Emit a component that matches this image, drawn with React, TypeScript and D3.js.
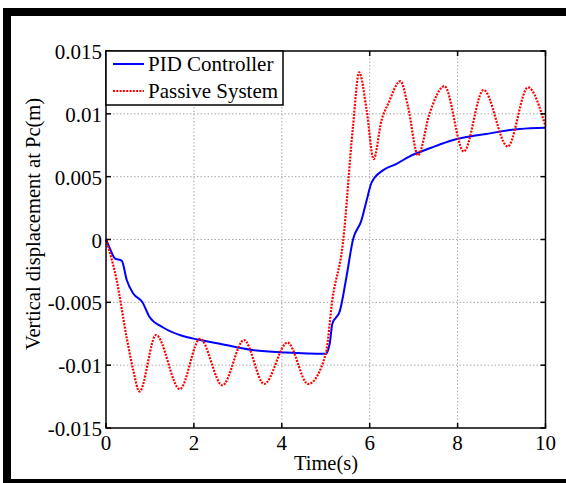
import React from "react";
import * as d3 from "d3";

const width = 566;
const height = 483;
const plot = { left: 106, right: 545.5, top: 51, bottom: 428 };

const xTicks = [0, 2, 4, 6, 8, 10];
const yTicks = [-0.015, -0.01, -0.005, 0, 0.005, 0.01, 0.015];
const yTickLabels = ["-0.015", "-0.01", "-0.005", "0", "0.005", "0.01", "0.015"];

// PID Controller
const pidTime = [0, 0.1, 0.2, 0.36, 0.47, 0.62, 0.83, 0.98, 1.3, 1.68, 2.14, 2.59, 3.33, 4.1, 5.0,
  5.09, 5.15, 5.32, 5.47, 5.62, 5.81, 5.93, 6.04, 6.3, 6.6, 6.9, 7.4, 7.88, 8.65, 9.41, 10];
const pidValue = [0, -0.0008, -0.0015, -0.0017, -0.0032, -0.0043, -0.005, -0.0061, -0.007, -0.0076,
  -0.008, -0.0083, -0.0088, -0.009, -0.0091, -0.0083, -0.0067, -0.0057, -0.003, 0, 0.0015, 0.0031,
  0.0045, 0.0055, 0.006, 0.0066, 0.0073, 0.0079, 0.0084, 0.0088, 0.0089];

// Passive System
const passiveTime = [0, 0.24, 0.47, 0.62, 0.76, 1.14, 1.68, 2.14, 2.65, 3.14, 3.6, 4.13, 4.6, 5.0,
  5.15, 5.39, 5.62, 5.76, 5.93, 6.09, 6.27, 6.42, 6.7, 6.87, 7.1, 7.36, 7.7, 8.14, 8.59, 9.14, 9.6, 10];
const passiveValue = [0, -0.0032, -0.0078, -0.0104, -0.0121, -0.0076, -0.0119, -0.0079, -0.0116,
  -0.008, -0.0115, -0.0082, -0.0115, -0.0091, -0.0048, -0.0003, 0.009, 0.0133, 0.0103, 0.0064,
  0.0095, 0.0108, 0.0126, 0.0106, 0.0067, 0.01, 0.0122, 0.007, 0.0119, 0.0074, 0.0121, 0.009];

const font = "'Liberation Serif', 'Times New Roman', serif";

export default function App() {
  const x = d3.scaleLinear().domain([0, 10]).range([plot.left, plot.right]);
  const y = d3.scaleLinear().domain([-0.015, 0.015]).range([plot.bottom, plot.top]);

  const line = d3
    .line<[number, number]>()
    .x(d => x(d[0]))
    .y(d => y(d[1]))
    .curve(d3.curveMonotoneX);

  const pidPath = line(pidTime.map((t, i) => [t, pidValue[i]]));
  const passivePath = line(passiveTime.map((t, i) => [t, passiveValue[i]]));

  const tickLen = 5;

  return (
    <svg
      width={width}
      height={height}
      style={{ position: "absolute", left: 0, top: 0, background: "#fff" }}
    >
      <rect x={7} y={12} width={570} height={471} fill="#fff" stroke="#000" strokeWidth={8} />

      {/* grid */}
      {xTicks.slice(1, -1).map(t => (
        <line key={"gx" + t} x1={x(t)} x2={x(t)} y1={plot.top} y2={plot.bottom}
          stroke="#a8a8a8" strokeWidth={1} strokeDasharray="1.5 2" />
      ))}
      {yTicks.slice(1, -1).map(t => (
        <line key={"gy" + t} x1={plot.left} x2={plot.right} y1={y(t)} y2={y(t)}
          stroke="#a8a8a8" strokeWidth={1} strokeDasharray="1.5 2" />
      ))}

      {/* series */}
      <path d={pidPath!} fill="none" stroke="#0000ff" strokeWidth={2} />
      <path d={passivePath!} fill="none" stroke="#ff0000" strokeWidth={2.2} strokeDasharray="2 1.3" />

      {/* box and ticks */}
      <rect x={plot.left} y={plot.top} width={plot.right - plot.left} height={plot.bottom - plot.top}
        fill="none" stroke="#000" strokeWidth={1.5} />
      {xTicks.map(t => (
        <g key={"tx" + t}>
          <line x1={x(t)} x2={x(t)} y1={plot.bottom} y2={plot.bottom - tickLen} stroke="#000" strokeWidth={1.5} />
          <line x1={x(t)} x2={x(t)} y1={plot.top} y2={plot.top + tickLen} stroke="#000" strokeWidth={1.5} />
          <text x={x(t)} y={450} textAnchor="middle" fontFamily={font} fontSize={21}>{t}</text>
        </g>
      ))}
      {yTicks.map((t, i) => (
        <g key={"ty" + t}>
          <line x1={plot.left} x2={plot.left + tickLen} y1={y(t)} y2={y(t)} stroke="#000" strokeWidth={1.5} />
          <line x1={plot.right} x2={plot.right - tickLen} y1={y(t)} y2={y(t)} stroke="#000" strokeWidth={1.5} />
          <text x={102} y={y(t) + 8} textAnchor="end" fontFamily={font} fontSize={21}>{yTickLabels[i]}</text>
        </g>
      ))}

      {/* axis labels */}
      <text x={326} y={470} textAnchor="middle" fontFamily={font} fontSize={20.5}>Time(s)</text>
      <text transform="translate(40,224) rotate(-90)" textAnchor="middle" fontFamily={font} fontSize={20.5}>
        Vertical displacement at Pc(m)
      </text>

      {/* legend */}
      <rect x={plot.left} y={plot.top} width={177} height={54} fill="#fff" stroke="#000" strokeWidth={1.5} />
      <line x1={113} x2={144} y1={64} y2={64} stroke="#0000ff" strokeWidth={2} />
      <text x={148} y={71} fontFamily={font} fontSize={21}>PID Controller</text>
      <line x1={113} x2={144} y1={91} y2={91} stroke="#ff0000" strokeWidth={2.2} strokeDasharray="2 1.3" />
      <text x={148} y={98} fontFamily={font} fontSize={21}>Passive System</text>
    </svg>
  );
}
